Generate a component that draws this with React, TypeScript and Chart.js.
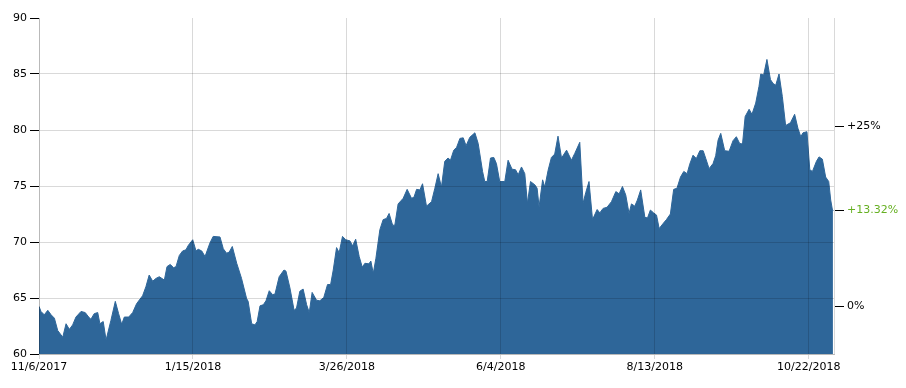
import { useEffect, useRef } from "react";
import { Chart, registerables } from "chart.js";

Chart.register(...registerables);

// Day offsets from 11/6/2017 and closing values
const days = [
  0.0, 0.9, 2.4, 4.0, 5.5, 7.0, 8.5, 10.8, 12.3, 13.8, 15.3, 16.8, 19.1, 21.0, 22.6, 23.6, 25.1, 26.7, 27.7, 29.2,
  30.5, 32.7, 34.7, 36.2, 37.6, 38.8, 40.8, 42.6, 44.4, 47.1, 48.6, 50.1, 51.7, 53.2, 54.7, 57.0, 58.2, 59.7, 61.2, 62.3,
  63.8, 65.3, 66.8, 67.9, 69.9, 71.4, 72.4, 74.0, 75.5, 77.7, 79.2, 82.3, 83.8, 85.3, 86.5, 87.9, 89.9, 92.1, 94.4, 95.1,
  96.7, 98.2, 99.2, 100.5, 102.0, 103.2, 104.7, 106.2, 107.3, 109.2, 111.4, 112.3, 114.1, 116.0, 117.1, 118.6, 120.1, 121.7, 122.9, 124.2,
  126.2, 127.7, 129.5, 131.2, 132.6, 133.8, 135.3, 136.5, 138.0, 139.5, 141.4, 142.6, 144.0, 145.6, 147.0, 148.2, 150.0, 150.9, 152.0, 153.2,
  155.0, 156.5, 158.0, 159.2, 160.8, 161.8, 163.3, 165.6, 167.4, 169.4, 170.5, 171.7, 173.2, 174.4, 176.2, 178.5, 180.0, 181.5, 183.0, 184.5,
  186.0, 187.1, 188.6, 189.9, 191.4, 192.9, 194.2, 195.9, 198.2, 199.7, 201.7, 202.7, 203.8, 205.3, 206.8, 208.0, 209.5, 211.8, 213.3, 215.1,
  216.7, 217.9, 219.4, 220.9, 222.1, 223.5, 225.5, 226.5, 227.4, 229.0, 230.0, 231.5, 233.0, 234.5, 236.0, 237.6, 239.9, 242.1, 243.6, 245.9,
  247.4, 248.6, 250.1, 251.7, 253.8, 255.0, 256.5, 258.3, 260.3, 262.3, 263.8, 265.3, 266.8, 268.3, 269.4, 270.9, 272.1, 273.6, 275.5, 276.7,
  278.0, 279.5, 280.8, 282.0, 283.8, 285.3, 287.1, 288.6, 290.1, 291.7, 293.2, 294.7, 295.9, 297.4, 298.9, 300.5, 302.0, 303.2, 304.7, 306.5,
  307.7, 308.8, 310.0, 311.8, 313.8, 315.6, 317.1, 318.6, 319.9, 321.1, 322.9, 324.2, 325.9, 327.4, 328.2, 329.5, 331.0, 332.6, 333.8, 335.0,
  336.5, 338.0, 339.5, 341.7, 343.6, 345.1, 346.4, 347.4, 349.2, 350.5, 351.7, 353.5, 354.7, 356.2, 357.7, 359.1, 360.0, 360.8, 361.0,
];

const prices = [
  64.25, 63.8, 63.5, 63.9, 63.5, 63.2, 62.1, 61.5, 62.7, 62.2, 62.6, 63.3, 63.8, 63.7, 63.3, 63.1, 63.6, 63.7, 62.7, 62.9,
  61.25, 63.0, 64.7, 63.6, 62.65, 63.3, 63.3, 63.7, 64.5, 65.2, 66.0, 67.05, 66.5, 66.75, 66.9, 66.6, 67.8, 68.0, 67.7, 67.8,
  68.8, 69.2, 69.3, 69.7, 70.2, 69.2, 69.35, 69.2, 68.7, 69.9, 70.5, 70.45, 69.4, 69.0, 69.1, 69.6, 68.1, 66.75, 64.95, 64.7,
  62.7, 62.6, 62.9, 64.3, 64.4, 64.75, 65.65, 65.3, 65.35, 66.9, 67.5, 67.4, 65.9, 63.9, 64.1, 65.6, 65.8, 64.4, 63.7, 65.5,
  64.8, 64.75, 65.05, 66.2, 66.2, 67.5, 69.5, 69.05, 70.5, 70.2, 70.1, 69.65, 70.25, 68.7, 67.75, 68.1, 68.05, 68.3, 67.2, 68.55,
  71.1, 72.0, 72.1, 72.55, 71.5, 71.5, 73.4, 73.9, 74.7, 73.9, 74.0, 74.7, 74.65, 75.2, 73.2, 73.6, 74.8, 76.1, 74.9, 77.2,
  77.5, 77.3, 78.2, 78.45, 79.25, 79.3, 78.6, 79.35, 79.75, 78.8, 76.3, 75.4, 75.4, 77.5, 77.55, 77.0, 75.4, 75.4, 77.3, 76.5,
  76.45, 76.0, 76.7, 76.1, 73.45, 75.4, 75.1, 74.8, 73.15, 75.55, 74.9, 76.4, 77.55, 77.85, 79.45, 77.5, 78.2, 77.3, 77.9, 78.9,
  73.45, 74.4, 75.4, 72.0, 72.9, 72.6, 73.0, 73.1, 73.6, 74.5, 74.3, 74.95, 74.2, 72.55, 73.4, 73.2, 73.75, 74.65, 72.2, 72.15,
  72.85, 72.6, 72.4, 71.2, 71.65, 72.0, 72.5, 74.7, 74.8, 75.8, 76.3, 76.1, 76.95, 77.75, 77.45, 78.15, 78.15, 77.45, 76.55, 77.0,
  77.7, 79.1, 79.7, 78.15, 78.1, 79.05, 79.4, 78.8, 78.75, 81.2, 81.85, 81.4, 82.4, 83.9, 85.0, 84.9, 86.3, 84.5, 84.15, 84.0,
  85.0, 83.0, 80.4, 80.65, 81.4, 80.15, 79.4, 79.75, 79.85, 76.45, 76.3, 77.2, 77.6, 77.4, 75.8, 75.4, 73.75, 72.85, 72.81,
];

const tickDays = [0, 70, 140, 210, 280, 350];
const tickLabels = ["11/6/2017", "1/15/2018", "3/26/2018", "6/4/2018", "8/13/2018", "10/22/2018"];
const leftTicks = [60, 65, 70, 75, 80, 85, 90];
const rightPercents = [0, 25];

const FILL = "#2e6699";
const GRID = "rgba(0,0,0,0.15)";
const GREEN = "#66b022";
const TEXT = "#000";

export default function App() {
  const ref = useRef<HTMLCanvasElement>(null);

  useEffect(() => {
    if (!ref.current) return;
    const base = prices[0];
    const last = prices[prices.length - 1];
    const rightValues = [...rightPercents.map((p) => base * (1 + p / 100)), last];
    const rightLabels = [
      ...rightPercents.map((p) => (p === 0 ? "0%" : `+${p}%`)),
      `+${((last / base - 1) * 100).toFixed(2)}%`,
    ];

    Chart.defaults.font.family = "'DejaVu Sans', Verdana, sans-serif";
    Chart.defaults.font.size = 11;

    const chart = new Chart(ref.current, {
      type: "line",
      data: {
        datasets: [
          {
            data: days.map((d, i) => ({ x: d, y: prices[i] })),
            fill: "start",
            backgroundColor: FILL,
            borderColor: FILL,
            borderWidth: 1,
            pointRadius: 0,
            tension: 0,
          },
        ],
      },
      options: {
        responsive: false,
        animation: false,
        events: [],
        plugins: { legend: { display: false }, tooltip: { enabled: false } },
        layout: { padding: { top: 18, left: 0, right: 0, bottom: 0 } },
        scales: {
          x: {
            type: "linear",
            min: 0,
            max: 361.5,
            afterBuildTicks: (s: any) => {
              s.ticks = tickDays.map((v) => ({ value: v }));
            },
            afterFit: (s: any) => {
              s.height = 34;
            },
            ticks: {
              callback: (_v: any, i: number) => tickLabels[i],
              maxRotation: 0,
              autoSkip: false,
              padding: 2,
              color: TEXT,
            },
            grid: { color: GRID, tickColor: GRID, tickLength: 5, z: 1 },
            border: { color: GRID, z: 1 },
          },
          y: {
            position: "left",
            min: 60,
            max: 90,
            afterBuildTicks: (s: any) => {
              s.ticks = leftTicks.map((v) => ({ value: v }));
            },
            afterFit: (s: any) => {
              s.width = 39;
            },
            ticks: { padding: 3, color: TEXT },
            grid: {
              color: (ctx: any) => (ctx.tick && ctx.tick.value === 90 ? "rgba(0,0,0,0)" : GRID),
              tickColor: "#000",
              tickLength: 9,
              z: 1,
            },
            border: { color: GRID, z: 1 },
          },
          y2: {
            position: "right",
            min: 60,
            max: 90,
            afterBuildTicks: (s: any) => {
              s.ticks = rightValues.map((v) => ({ value: v }));
            },
            afterFit: (s: any) => {
              s.width = 72;
            },
            ticks: {
              callback: (_v: any, i: number) => rightLabels[i],
              color: (ctx: any) => (ctx.index === 2 ? GREEN : TEXT),
              padding: 3,
            },
            grid: { drawOnChartArea: false, tickColor: "#000", tickLength: 10 },
            border: { color: GRID, z: 1 },
          },
        },
      },
    } as any);
    return () => chart.destroy();
  }, []);

  return (
    <div style={{ position: "fixed", left: 0, top: 0, width: 906, height: 388, background: "#fff" }}>
      <canvas ref={ref} width={906} height={388} style={{ display: "block" }} />
    </div>
  );
}
